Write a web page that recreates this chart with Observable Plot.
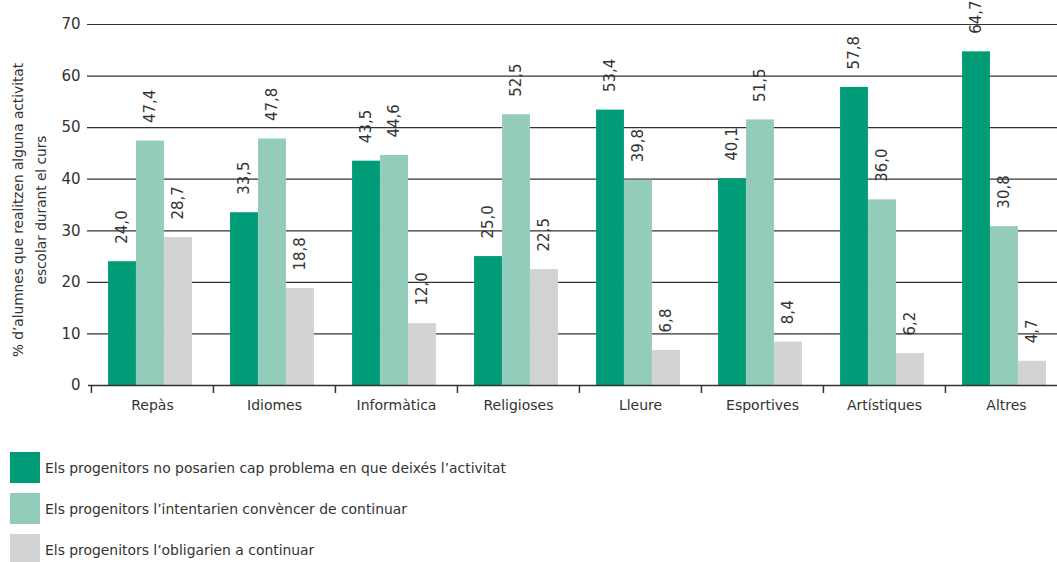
<!DOCTYPE html>
<html><head><meta charset="utf-8">
<script src="https://cdn.jsdelivr.net/npm/d3@7"></script>
<script src="https://cdn.jsdelivr.net/npm/@observablehq/plot@0.6"></script>
<style>
body{margin:0;background:#fff;font-family:"DejaVu Sans",sans-serif;color:#333;}
#legend{padding-left:10px;padding-top:12px}
.row{display:flex;align-items:center;height:31px;margin-bottom:10px;font-size:13.9px;color:#333}
.sw{width:30px;height:31px;margin-right:5px;flex:none}
</style></head><body><div id="chart"></div><div id="legend"></div>
<script>
const categories = ["Repàs","Idiomes","Informàtica","Religioses","Lleure","Esportives","Artístiques","Altres"];
const seriesNames = [
  "Els progenitors no posarien cap problema en que deixés l’activitat",
  "Els progenitors l’intentarien convèncer de continuar",
  "Els progenitors l’obligarien a continuar"
];
const seriesColors = ["#009b77","#94ccbc","#d1d3d4"];
const noProblem = [24.0,33.5,43.5,25.0,53.4,40.1,57.8,64.7];
const convince  = [47.4,47.8,44.6,52.5,39.8,51.5,36.0,30.8];
const oblige    = [28.7,18.8,12.0,22.5,6.8,8.4,6.2,4.7];
const yTicks = [0,10,20,30,40,50,60,70];
const yLabel = "% d’alumnes que realitzen alguna activitat\nescolar durant el curs";

const seriesValues = [noProblem, convince, oblige];
const tables = seriesValues.map((vals, s) => categories.map((c, i) => ({category: c, series: seriesNames[s], value: vals[i]})));
const fmt = v => v.toFixed(1).replace(".", ",");
const offsets = [-28, 0, 28];
const W = 1057, H = 440;
const bw = (1067 - 90) / categories.length;
const inset = (bw - 28) / 2;

const marks = [
  Plot.ruleY(yTicks.slice(1), {stroke: "#333", strokeWidth: 1.2, insetLeft: -3}),
  ...tables.map((t, s) => Plot.barY(t, {x: "category", y: "value", fill: seriesColors[s], insetLeft: inset, insetRight: inset, dx: offsets[s] - 2})),
  Plot.ruleY([0], {stroke: "#333", strokeWidth: 1.5, insetLeft: -2}),
  Plot.axisX({tickSize: 8, tickFormat: () => "", dx: -bw / 2, stroke: "#333", strokeWidth: 1.5, label: null}),
  Plot.axisX({tickSize: 0, tickPadding: 15, fontSize: 14, fill: "#333", label: null}),
  Plot.axisY({ticks: yTicks, tickSize: 0, tickPadding: 10, fontSize: 15, fill: "#333", label: null}),
  ...tables.map((t, s) => Plot.text(t, {x: "category", y: "value", text: d => fmt(d.value), rotate: -90, textAnchor: "start", lineAnchor: "middle", dx: offsets[s] - 2, dy: -18, fontSize: 15, fill: "#333"})),
  Plot.text([yLabel], {frameAnchor: "left", textAnchor: "middle", lineAnchor: "middle", rotate: -90, dx: -63, dy: 5, lineHeight: 1.68, fontSize: 13.7, fill: "#333"})
];

const chart = Plot.plot({
  width: W, height: H,
  marginLeft: 90, marginRight: 0, marginTop: 24, marginBottom: H - 385,
  style: {fontFamily: "DejaVu Sans, sans-serif", background: "#fff", overflow: "visible"},
  x: {domain: categories, range: [90, 1067], padding: 0, label: null},
  y: {domain: [0, 70], label: null},
  marks
});
document.getElementById("chart").appendChild(chart);

const legend = document.getElementById("legend");
seriesNames.forEach((n, i) => {
  const row = document.createElement("div");
  row.className = "row";
  const sw = document.createElement("div");
  sw.className = "sw";
  sw.style.background = seriesColors[i];
  const tx = document.createElement("span");
  tx.textContent = n;
  row.appendChild(sw); row.appendChild(tx);
  legend.appendChild(row);
});
</script></body></html>
